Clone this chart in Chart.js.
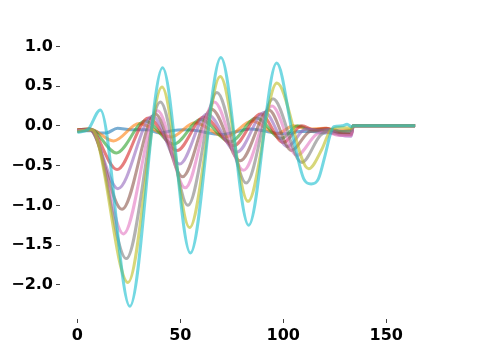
<!DOCTYPE html>
<html>
<head>
<meta charset="utf-8">
<script src="https://cdn.jsdelivr.net/npm/chart.js@4/dist/chart.umd.min.js"></script>
<style>
  html, body { margin: 0; padding: 0; background: #fff; }
  #wrap { width: 480px; height: 360px; }
</style>
</head>
<body>
<div id="wrap"><canvas id="c" width="480" height="360"></canvas></div>
<script>
// values, one x/y pair of arrays per line
const blueX  = [0, 8, 11, 14, 19.5, 26, 34, 40, 46, 52, 58, 64, 70, 76, 84, 90, 96, 102, 108, 114, 120, 126, 133, 134, 164];
const blueY  = [-0.06, -0.06, -0.09, -0.09, -0.03, -0.05, -0.05, -0.09, -0.06, -0.05, -0.06, -0.09, -0.11, -0.08, -0.04, -0.06, -0.09, -0.1, -0.07, -0.07, -0.09, -0.08, -0.1, 0, 0];
const orangeX = [0, 6, 17.6, 30, 45.6, 57, 72, 85, 97, 105, 112, 120, 127, 133, 134, 164];
const orangeY = [-0.05, -0.04, -0.19, 0.03, -0.14, 0.04, -0.14, 0.06, -0.1, 0.0, -0.04, -0.03, -0.06, -0.05, 0, 0];
const greenX = [0, 6, 19, 33, 46.8, 60, 74.3, 87, 99, 107, 114, 121, 127, 133, 134, 164];
const greenY = [-0.05, -0.04, -0.34, 0.06, -0.23, 0.08, -0.2, 0.1, -0.16, 0.0, -0.05, -0.04, -0.07, -0.06, 0, 0];
const redX = [0, 6, 19.3, 34.5, 48.4, 61.5, 75.9, 89, 100, 109, 115, 121, 127, 133, 134, 164];
const redY = [-0.05, -0.04, -0.55, 0.1, -0.31, 0.11, -0.25, 0.15, -0.21, 0.0, -0.05, -0.03, -0.09, -0.1, 0, 0];
const purpleX = [0, 6, 19.7, 36.5, 49.7, 63, 77.5, 91, 102, 111, 117, 122, 128, 133, 134, 164];
const purpleY = [-0.06, -0.05, -0.79, 0.12, -0.48, 0.15, -0.33, 0.17, -0.26, -0.04, -0.06, -0.05, -0.12, -0.13, 0, 0];
const brownX = [0, 6, 21.7, 37.9, 51.1, 65.2, 79.1, 93, 104, 113, 119, 125, 133, 134, 164];
const brownY = [-0.06, -0.05, -1.05, 0.15, -0.64, 0.21, -0.44, 0.2, -0.31, -0.07, -0.06, -0.1, -0.11, 0, 0];
const pinkX = [0, 7, 22.4, 39, 52.4, 66.5, 80.7, 94.5, 106.6, 116, 121, 127, 133, 134, 164];
const pinkY = [-0.06, -0.05, -1.36, 0.19, -0.78, 0.3, -0.56, 0.25, -0.37, -0.11, -0.08, -0.12, -0.12, 0, 0];
const grayX = [0, 7, 23.8, 40.3, 53.7, 67.8, 82, 95, 109, 118, 124, 129, 133, 134, 164];
const grayY = [-0.07, -0.05, -1.67, 0.3, -1.0, 0.42, -0.72, 0.34, -0.46, -0.12, -0.05, -0.07, -0.06, 0, 0];
const oliveX = [0, 7, 24.6, 41.1, 54.5, 69.4, 82.9, 96.9, 112.3, 118.8, 122.8, 127, 133, 134, 164];
const oliveY = [-0.07, -0.05, -1.97, 0.49, -1.28, 0.62, -0.95, 0.54, -0.54, -0.29, -0.06, -0.02, -0.03, 0, 0];
const cyanX = [0, 5, 11.2, 25.5, 41.4, 54.9, 69.7, 83.2, 96.8, 105, 110, 113.5, 117, 120.3, 122.7, 124.5, 128.5, 131, 133, 134, 164];
const cyanY = [-0.08, -0.05, 0.2, -2.27, 0.73, -1.6, 0.86, -1.25, 0.79, -0.17, -0.67, -0.73, -0.67, -0.37, -0.12, -0.01, 0.0, 0.02, -0.01, 0, 0];

const xTicks = [0, 50, 100, 150];
const yTicks = [-2.0, -1.5, -1.0, -0.5, 0.0, 0.5, 1.0];

const series = [
  [blueX, blueY, '31,119,180'],
  [orangeX, orangeY, '255,127,14'],
  [greenX, greenY, '44,160,44'],
  [redX, redY, '214,39,40'],
  [purpleX, purpleY, '148,103,189'],
  [brownX, brownY, '140,86,75'],
  [pinkX, pinkY, '227,119,194'],
  [grayX, grayY, '127,127,127'],
  [oliveX, oliveY, '188,189,34'],
  [cyanX, cyanY, '23,190,207']
];

// later series are painted on top, so the first one gets the highest order
const datasets = series.map(([xs, ys, rgb], i) => ({
  data: xs.map((x, k) => ({x: x, y: ys[k]})),
  borderColor: `rgba(${rgb},0.6)`,
  borderWidth: 3,
  pointRadius: 0,
  fill: false,
  order: series.length - i,
  cubicInterpolationMode: 'monotone'
}));

const tickFont = {family: 'DejaVu Sans', size: 16, weight: 'bold'};
const fmt = v => (v < 0 ? '\u2212' : '') + Math.abs(v).toFixed(1);

new Chart(document.getElementById('c').getContext('2d'), {
  type: 'line',
  data: {datasets: datasets},
  options: {
    responsive: false,
    animation: false,
    devicePixelRatio: 1,
    layout: {padding: {left: 0, right: 48, top: 44, bottom: 0}},
    plugins: {legend: {display: false}, tooltip: {enabled: false}},
    scales: {
      x: {
        type: 'linear',
        min: -8.4, max: 172.2,
        border: {display: false},
        grid: {drawOnChartArea: false, drawTicks: true, tickLength: 4, tickColor: '#444'},
        ticks: {font: tickFont, color: '#000', padding: 3, maxRotation: 0, callback: v => String(v)},
        afterBuildTicks: s => { s.ticks = xTicks.map(v => ({value: v})); },
        afterFit: s => { s.height = 41; }
      },
      y: {
        type: 'linear',
        min: -2.43, max: 1.03,
        border: {display: false},
        grid: {drawOnChartArea: false, drawTicks: true, tickLength: 4, tickColor: '#444'},
        ticks: {font: tickFont, color: '#000', padding: 3, callback: v => fmt(v)},
        afterBuildTicks: s => { s.ticks = yTicks.map(v => ({value: v})); },
        afterFit: s => { s.width = 60; }
      }
    }
  }
});
</script>
</body>
</html>
